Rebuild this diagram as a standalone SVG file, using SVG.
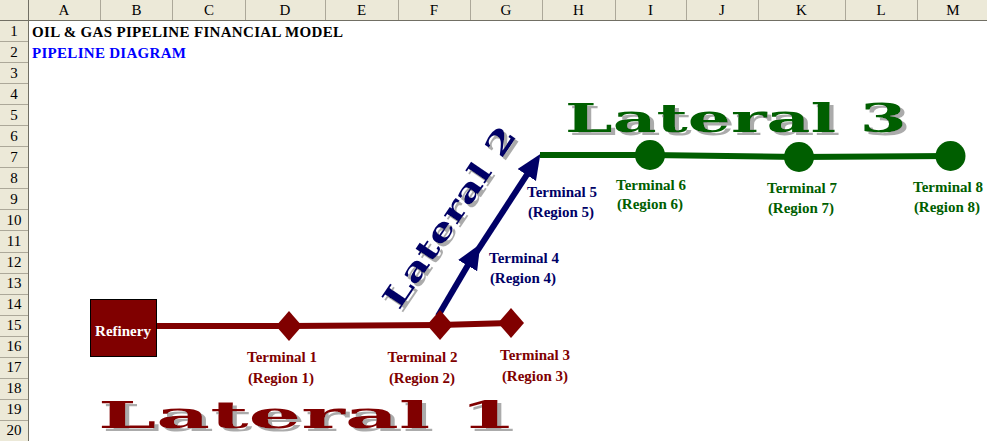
<svg xmlns="http://www.w3.org/2000/svg" width="987" height="441" viewBox="0 0 987 441">
<style>
.hdr{fill:#ECE9D8}
.hl{stroke:#ACA899;stroke-width:1;fill:none}
.hb{stroke:#716F64;stroke-width:1;fill:none}
.ht{font-family:"Liberation Serif",serif;font-size:15px;fill:#000;text-anchor:middle}
.lbl{font-family:"Liberation Serif",serif;font-size:15px;font-weight:bold;text-anchor:middle}
.red{fill:#800000}
.navy{fill:#000066}
.grn{fill:#005E00}
.wa{font-family:"DejaVu Serif",serif;font-weight:bold}
.l1{stroke:#800000;stroke-width:6;fill:none}
.l2{stroke:#000066;stroke-width:6;fill:none}
.l3{stroke:#005E00;stroke-width:6;fill:none}
</style>
<defs>
<marker id="arr" markerUnits="userSpaceOnUse" markerWidth="26" markerHeight="24" refX="8" refY="11" orient="auto" viewBox="0 0 26 24">
<path d="M0,0 L25,11 L0,22 z" fill="#000066"/>
</marker>
<filter id="shadow" x="-10%" y="-30%" width="130%" height="170%">
<feOffset in="SourceAlpha" dx="4" dy="3" result="off"/>
<feFlood flood-color="#ABABAB"/>
<feComposite in2="off" operator="in" result="sh"/>
<feMerge><feMergeNode in="sh"/><feMergeNode in="SourceGraphic"/></feMerge>
</filter>
<filter id="shadow2" x="-30%" y="-30%" width="160%" height="160%">
<feOffset in="SourceAlpha" dx="3" dy="3" result="off"/>
<feFlood flood-color="#ABABAB"/>
<feComposite in2="off" operator="in" result="sh"/>
<feMerge><feMergeNode in="sh"/><feMergeNode in="SourceGraphic"/></feMerge>
</filter>
</defs>
<rect x="0" y="0" width="987" height="441" fill="#fff"/>
<g id="headers">
<rect class="hdr" x="0" y="0" width="987" height="20"/>
<rect class="hdr" x="0" y="0" width="28" height="441"/>
<path class="hl" d="M100.5,0V20 M172.5,0V20 M245.5,0V20 M325.5,0V20 M398.5,0V20 M470.5,0V20 M542.5,0V20 M615.5,0V20 M686.5,0V20 M758.5,0V20 M845.5,0V20 M917.5,0V20"/>
<path class="hl" d="M0,41.5H28 M0,62.5H28 M0,83.5H28 M0,104.5H28 M0,125.5H28 M0,146.5H28 M0,167.5H28 M0,188.5H28 M0,209.5H28 M0,230.5H28 M0,252.5H28 M0,273.5H28 M0,294.5H28 M0,315.5H28 M0,336.5H28 M0,357.5H28 M0,378.5H28 M0,399.5H28 M0,420.5H28"/>
<path class="hb" d="M0,20.5H987 M28.5,0V441"/>
<g class="ht">
<text x="64" y="15">A</text><text x="136.5" y="15">B</text><text x="209" y="15">C</text><text x="285" y="15">D</text><text x="361.5" y="15">E</text><text x="434" y="15">F</text><text x="506" y="15">G</text><text x="578.5" y="15">H</text><text x="650.5" y="15">I</text><text x="722" y="15">J</text><text x="801.5" y="15">K</text><text x="881" y="15">L</text><text x="953" y="15">M</text>
<text x="14" y="36">1</text><text x="14" y="57">2</text><text x="14" y="78">3</text><text x="14" y="99">4</text><text x="14" y="120">5</text><text x="14" y="141">6</text><text x="14" y="162">7</text><text x="14" y="183">8</text><text x="14" y="204">9</text><text x="14" y="225">10</text><text x="14" y="246">11</text><text x="14" y="267">12</text><text x="14" y="288">13</text><text x="14" y="309">14</text><text x="14" y="330">15</text><text x="14" y="351">16</text><text x="14" y="372">17</text><text x="14" y="393">18</text><text x="14" y="414">19</text><text x="14" y="435">20</text>
</g>
</g>
<g id="titles">
<text x="32" y="36.5" font-family="Liberation Serif, serif" font-size="15" font-weight="bold" fill="#000" textLength="311" lengthAdjust="spacing">OIL &amp; GAS PIPELINE FINANCIAL MODEL</text>
<text x="32" y="57.5" font-family="Liberation Serif, serif" font-size="15" font-weight="bold" fill="#0000FF" textLength="154" lengthAdjust="spacing">PIPELINE DIAGRAM</text>
</g>
<g id="wordart">
<text class="wa grn" x="565" y="132" font-size="39" textLength="342" lengthAdjust="spacingAndGlyphs" filter="url(#shadow)">Lateral 3</text>
<text class="wa red" x="98" y="428" font-size="37" textLength="419" lengthAdjust="spacingAndGlyphs" filter="url(#shadow)">Lateral 1</text>
<g filter="url(#shadow2)">
<text class="wa navy" transform="translate(399,311) rotate(-56)" x="0" y="0" font-size="31" textLength="212" lengthAdjust="spacingAndGlyphs">Lateral 2</text>
</g>
</g>
<g id="connectors">
<polyline class="l1" points="156,326 289,326 440,325 511,323"/>
<path class="l2" d="M438,316 L471.7,258.7" marker-end="url(#arr)"/>
<path class="l2" d="M474,256 L531.1,168.3" marker-end="url(#arr)"/>
<polyline class="l3" points="540,155 650,155 799,157 950,156"/>
</g>
<g id="refinery">
<rect x="90.5" y="299.5" width="66" height="57" fill="#800000" stroke="#000" stroke-width="1"/>
<text class="lbl" x="123" y="336" fill="#fff">Refinery</text>
</g>
<g id="terminal1">
<polygon class="red" points="289,311 302,326 289,341 276,326"/>
<text class="lbl red" x="282" y="362">Terminal 1</text>
<text class="lbl red" x="281" y="383">(Region 1)</text>
</g>
<g id="terminal2">
<polygon class="red" points="440,310 453,325 440,340 427,325"/>
<text class="lbl red" x="422.5" y="362">Terminal 2</text>
<text class="lbl red" x="422" y="383">(Region 2)</text>
</g>
<g id="terminal3">
<polygon class="red" points="511,308 524,323 511,338 498,323"/>
<text class="lbl red" x="535" y="360">Terminal 3</text>
<text class="lbl red" x="535" y="381">(Region 3)</text>
</g>
<g id="terminal4">
<text class="lbl navy" x="524" y="263">Terminal 4</text>
<text class="lbl navy" x="523" y="283">(Region 4)</text>
</g>
<g id="terminal5">
<text class="lbl navy" x="562" y="197">Terminal 5</text>
<text class="lbl navy" x="561" y="217">(Region 5)</text>
</g>
<g id="terminal6">
<circle class="grn" cx="650" cy="155" r="15"/>
<text class="lbl grn" x="651" y="190">Terminal 6</text>
<text class="lbl grn" x="650" y="209">(Region 6)</text>
</g>
<g id="terminal7">
<circle class="grn" cx="799" cy="157" r="15"/>
<text class="lbl grn" x="802" y="192.5">Terminal 7</text>
<text class="lbl grn" x="801" y="213">(Region 7)</text>
</g>
<g id="terminal8">
<circle class="grn" cx="950.5" cy="156" r="15"/>
<text class="lbl grn" x="948" y="191.5">Terminal 8</text>
<text class="lbl grn" x="947" y="212">(Region 8)</text>
</g>
</svg>
